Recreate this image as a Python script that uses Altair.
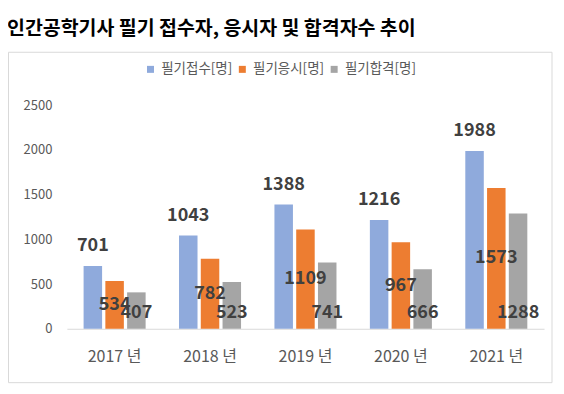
import altair as alt
import pandas as pd

years = ["2017 년", "2018 년", "2019 년", "2020 년", "2021 년"]
series = ["필기접수[명]", "필기응시[명]", "필기합격[명]"]
applied = [701, 1043, 1388, 1216, 1988]
taken = [534, 782, 1109, 967, 1573]
passed = [407, 523, 741, 666, 1288]
colors = ["#8FAADC", "#ED7D31", "#A5A5A5"]
y_ticks = [0, 500, 1000, 1500, 2000, 2500]
title_text = "인간공학기사 필기 접수자, 응시자 및 합격자수 추이"

rows = []
for i, yr in enumerate(years):
    for s, vals in zip(series, [applied, taken, passed]):
        rows.append({"year": yr, "series": s, "value": vals[i]})
df = pd.DataFrame(rows)

FONT = "Noto Sans CJK KR"
LABEL_COLOR = "#404040"

x_scale = alt.Scale(paddingInner=0.35, paddingOuter=0.175)
y_scale = alt.Scale(domain=[0, 2500])


def x_enc():
    return alt.X("year:N", sort=years, scale=x_scale, axis=alt.Axis(title=None))


def y_enc(field):
    return alt.Y(field, scale=y_scale,
                 axis=alt.Axis(title=None, values=y_ticks, format="d"))


xoff = alt.XOffset("series:N", sort=series,
                   scale=alt.Scale(domain=series, paddingInner=0.15))

base = alt.Chart(df)

bars = base.mark_bar().encode(
    x=x_enc(), xOffset=xoff, y=y_enc("value:Q"),
    color=alt.Color(
        "series:N", sort=series,
        scale=alt.Scale(domain=series, range=colors),
        legend=alt.Legend(
            title=None, orient="none", direction="horizontal",
            legendX=77, legendY=-43, symbolType="square", symbolSize=49,
            labelFontSize=13.5, labelColor="#595959", labelFont=FONT,
            columnPadding=3, labelOffset=4, symbolStrokeWidth=0,
        ),
    ),
)

text_style = dict(font=FONT, fontSize=18, fontWeight="bold", color=LABEL_COLOR)

top_labels = base.transform_filter(
    alt.datum.series == series[0]
).mark_text(dy=-15, baseline="alphabetic", **text_style).encode(
    x=x_enc(), xOffset=xoff, y=y_enc("value:Q"), text="value:Q",
)

mid_labels = base.transform_filter(
    alt.datum.series == series[1]
).transform_calculate(mid="datum.value / 2").mark_text(
    baseline="middle", **text_style
).encode(
    x=x_enc(), xOffset=xoff, y=y_enc("mid:Q"), text="value:Q",
)

base_labels = base.transform_filter(
    alt.datum.series == series[2]
).transform_calculate(zero="0").mark_text(
    dy=-11, baseline="alphabetic", **text_style
).encode(
    x=x_enc(), xOffset=xoff, y=y_enc("zero:Q"), text="value:Q",
)

frame = alt.Chart(alt.Data(values=[{}])).mark_rect(
    fill="transparent", stroke="#D9D9D9", strokeWidth=1
).encode(
    x=alt.value(-58.5), x2=alt.value(486), y=alt.value(-53), y2=alt.value(278)
)

chart = alt.layer(bars, top_labels, mid_labels, base_labels, frame).properties(
    width=478, height=224,
    title=alt.TitleParams(
        text=title_text, anchor="start", frame="group", dx=-60, offset=12,
        fontSize=19.5, fontWeight="bold", font=FONT, color="black",
    ),
    padding={"left": 59, "top": 97, "right": 12, "bottom": 58},
    autosize=alt.AutoSizeParams(type="none"),
    background="white",
).configure_view(stroke=None).configure_axisX(
    labelAngle=0, ticks=False, domainColor="#D9D9D9", grid=False,
    labelFontSize=16, labelColor="#595959", labelFont=FONT, labelPadding=20,
).configure_axisY(
    grid=False, domain=False, ticks=False,
    labelFontSize=13, labelColor="#595959", labelFont=FONT, labelPadding=15,
)

chart.save("out.html", embed_options={"renderer": "svg", "actions": False})
